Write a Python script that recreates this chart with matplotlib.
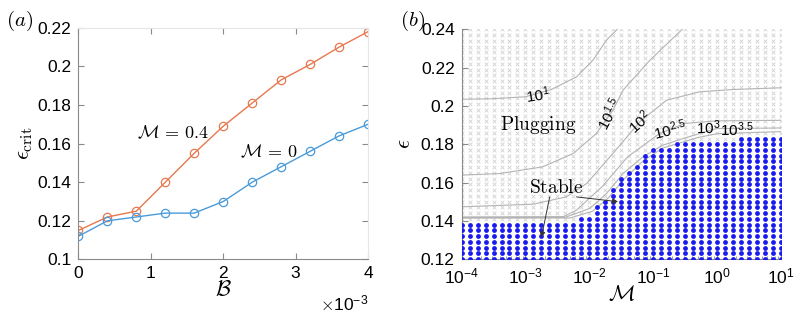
import numpy as np
import matplotlib.pyplot as plt
from matplotlib.ticker import FormatStrFormatter, FixedLocator, NullFormatter

plt.rcParams['mathtext.fontset'] = 'cm'
plt.rcParams['font.family'] = ['Liberation Sans', 'DejaVu Sans']

# ── (a) critical epsilon vs B ────────────────────────────────────────────────
B_vals = [0, 0.4, 0.8, 1.2, 1.6, 2.0, 2.4, 2.8, 3.2, 3.6, 4.0]          # x 1e-3
eps_M04 = [0.115, 0.122, 0.125, 0.140, 0.155, 0.169, 0.181, 0.193, 0.201, 0.210, 0.218]
eps_M0 = [0.112, 0.120, 0.122, 0.124, 0.124, 0.130, 0.140, 0.148, 0.156, 0.164, 0.170]

# ── (b) phase map ────────────────────────────────────────────────────────────
logM_grid = np.linspace(-4, 1, 41)
eps_grid = np.linspace(0.12, 0.24, 41)
# highest stable epsilon in each column of the grid
stable_top = [0.140] * 15 + [0.143, 0.143, 0.147, 0.151, 0.158, 0.1625, 0.1665,
                             0.170, 0.174, 0.1775, 0.1775, 0.1775] + [0.181] * 8 + [0.184] * 6

# contour lines (log10 M, eps)
contours = {
    '1':   ([-4, -3.5, -3, -2.6, -2.2, -1.94, -1.73, -1.55],
            [0.2035, 0.2038, 0.2048, 0.2085, 0.2152, 0.224, 0.2344, 0.2405]),
    '1.5': ([-4, -3.4, -2.73, -2.25, -1.89, -1.63, -1.47, -1.05, -0.53],
            [0.1639, 0.1647, 0.1682, 0.1752, 0.1856, 0.1978, 0.2083, 0.2239, 0.2405]),
    '2':   ([-4, -2.88, -2.36, -2.04, -1.63, -1.21, -0.79, -0.27, 0.25, 1.0],
            [0.1473, 0.1487, 0.1525, 0.1595, 0.1752, 0.1917, 0.203, 0.2074, 0.2086, 0.2095]),
    '2.5': ([-4, -2.4, -2.2, -1.8, -1.4, -0.9, -0.5, 0.0, 1.0],
            [0.1420, 0.1422, 0.1456, 0.1578, 0.1734, 0.1856, 0.1909, 0.1922, 0.1925]),
    '3':   ([-4, -2.38, -1.99, -1.73, -1.47, -1.16, -0.85, -0.53, -0.01, 1.0],
            [0.1418, 0.1418, 0.1465, 0.1543, 0.1647, 0.1734, 0.1795, 0.183, 0.1882, 0.1885]),
    '3.5': ([-4, -2.3, -1.95, -1.7, -1.45, -1.15, -0.85, -0.5, -0.3, 0.0, 1.0],
            [0.1414, 0.1415, 0.145, 0.152, 0.162, 0.1715, 0.178, 0.1815, 0.1835, 0.1855, 0.1866]),
}
# label position (log10 M, eps, rotation)
contour_labels = {
    '1': (-2.8, 0.2058, 8), '1.5': (-1.68, 0.196, 62), '2': (-1.21, 0.1917, 42),
    '2.5': (-0.74, 0.1876, 14), '3': (-0.14, 0.1885, 0), '3.5': (0.31, 0.1876, 0),
}

AX_GRAY = '#8a8a8a'
ORANGE = '#E8784E'
BLUE = '#4A9BDA'
TICK_FS = 12.5

fig = plt.figure(figsize=(8, 3.16), dpi=100)
fig.patch.set_facecolor('white')

# ── panel (a) ────────────────────────────────────────────────────────────────
ax = fig.add_axes([0.098, 0.179, 0.362, 0.733])
ax.plot(B_vals, eps_M04, '-o', color=ORANGE, lw=1.0, ms=6, mfc='none', mew=0.9)
ax.plot(B_vals, eps_M0, '-o', color=BLUE, lw=1.0, ms=6, mfc='none', mew=0.9)
ax.set_xlim(0, 4)
ax.set_ylim(0.1, 0.22)
ax.set_xticks([0, 1, 2, 3, 4])
ax.set_yticks(np.arange(0.1, 0.2201, 0.02))
ax.yaxis.set_major_formatter(FormatStrFormatter('%g'))
ax.tick_params(direction='in', length=4, color=AX_GRAY, labelsize=TICK_FS,
               top=True, right=True, pad=5)
for side in ['left', 'bottom']:
    ax.spines[side].set_color(AX_GRAY)
for side in ['top', 'right']:
    ax.spines[side].set_color('#e6e6e6')
ax.text(0.81, 0.165, r'$\mathcal{M}\,=\,0.4$', fontsize=13, va='center')
ax.text(2.23, 0.1555, r'$\mathcal{M}\,=\,0$', fontsize=13, va='center')
ax.set_xlabel(r'$\mathcal{B}$', fontsize=16, labelpad=-1)
ax.set_ylabel(r'$\epsilon_{\rm crit}$', fontsize=16, labelpad=2)
ax.text(1.0, -0.19, r'$\times\mathregular{10^{-3}}$', transform=ax.transAxes,
        ha='right', va='center', fontsize=TICK_FS)
fig.text(0.008, 0.935, r'$(a)$', fontsize=15, va='center')

# ── panel (b) ────────────────────────────────────────────────────────────────
bx = fig.add_axes([0.577, 0.180, 0.399, 0.727])
LM, EE = np.meshgrid(logM_grid, eps_grid)
stable = EE <= np.array(stable_top)[None, :] + 1e-6
bx.scatter(10 ** LM[~stable], EE[~stable], marker='x', s=7, color='#d0d0d0',
           linewidths=0.6, zorder=1)
bx.scatter(10 ** LM[stable], EE[stable], marker='o', s=12, color='#1a1aee',
           linewidths=0, zorder=3)
for key, (lm, ev) in contours.items():
    bx.plot(10 ** np.array(lm), ev, color='#b4b4b4', lw=0.8, zorder=2)
    x0, y0, rot = contour_labels[key]
    bx.text(10 ** x0, y0, r'$\mathregular{10^{%s}}$' % key, fontsize=11,
            rotation=rot, ha='center', va='center', zorder=4)

bx.set_xscale('log')
bx.set_xlim(1e-4, 1e1)
bx.set_ylim(0.12, 0.24)
bx.xaxis.set_major_locator(FixedLocator([1e-4, 1e-3, 1e-2, 1e-1, 1e0, 1e1]))
bx.set_xticklabels([r'$\mathregular{10^{%d}}$' % p for p in range(-4, 2)])
bx.xaxis.set_minor_formatter(NullFormatter())
bx.set_yticks(np.arange(0.12, 0.2401, 0.02))
bx.yaxis.set_major_formatter(FormatStrFormatter('%g'))
bx.tick_params(which='both', direction='in', color=AX_GRAY, labelsize=TICK_FS, pad=5)
bx.tick_params(which='major', length=4)
bx.tick_params(which='minor', length=2)
for side in ['left', 'bottom']:
    bx.spines[side].set_color(AX_GRAY)
for side in ['top', 'right']:
    bx.spines[side].set_visible(False)

bx.text(10 ** -2.8, 0.19, r'$\mathrm{Plugging}$', fontsize=14, ha='center', va='center')
bx.text(10 ** -2.52, 0.157, r'$\mathrm{Stable}$', fontsize=14, ha='center', va='center')
arrow = dict(arrowstyle='-|>', color='#333333', lw=0.7, mutation_scale=8,
             shrinkA=0, shrinkB=0)
bx.annotate('', xy=(10 ** -2.75, 0.1313), xytext=(10 ** -2.62, 0.1525), arrowprops=arrow)
bx.annotate('', xy=(10 ** -1.55, 0.150), xytext=(10 ** -2.2, 0.1525), arrowprops=arrow)
bx.set_xlabel(r'$\mathcal{M}$', fontsize=16, labelpad=-1)
bx.set_ylabel(r'$\epsilon$', fontsize=16, labelpad=4)
fig.text(0.5, 0.935, r'$(b)$', fontsize=15, va='center')

fig.savefig('out.png', dpi=100)
